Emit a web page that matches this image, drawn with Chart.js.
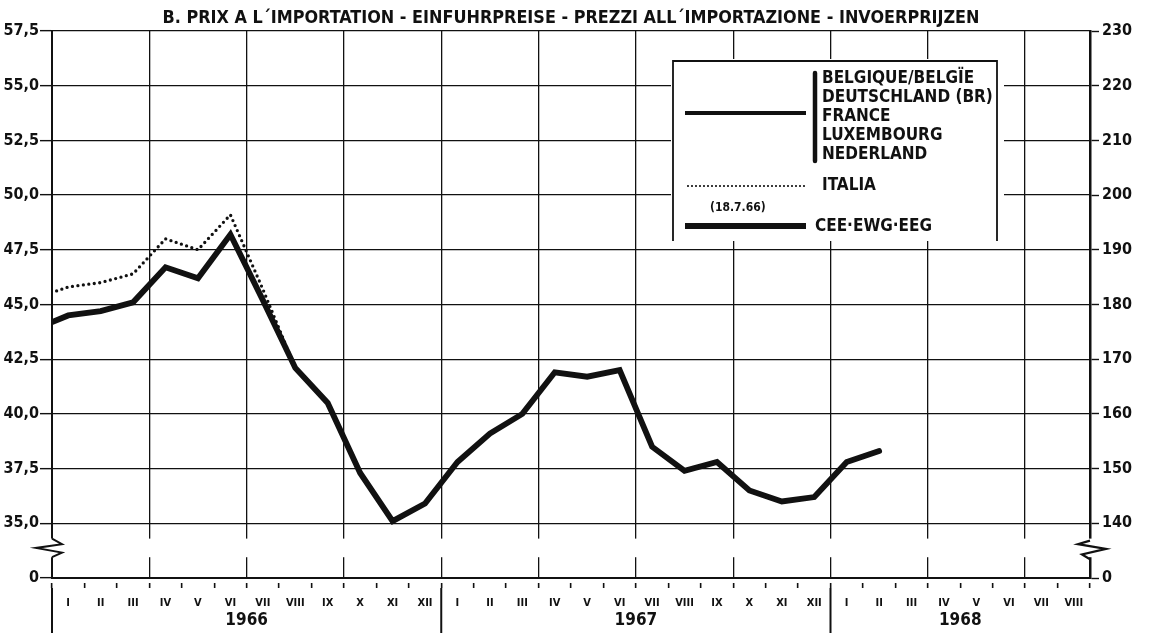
<!DOCTYPE html>
<html lang="fr">
<head>
    <meta charset="UTF-8">
    <title>Prix à l'importation</title>
    <script src="https://cdn.jsdelivr.net/npm/chart.js"></script>
    <style>
        html, body { margin: 0; padding: 0; background: #fff; }
        canvas { display: block; }
    </style>
</head>
<body>
<canvas id="chart" width="1151" height="639"></canvas>
<script>
    // mois de I 1966 a VIII 1968
    const months = ['I', 'II', 'III', 'IV', 'V', 'VI', 'VII', 'VIII', 'IX', 'X', 'XI', 'XII',
                    'I', 'II', 'III', 'IV', 'V', 'VI', 'VII', 'VIII', 'IX', 'X', 'XI', 'XII',
                    'I', 'II', 'III', 'IV', 'V', 'VI', 'VII', 'VIII'];
    const years = ['1966', '1967', '1968'];

    // CEE (et les 5 pays) - valeur de XII 1965, puis I 1966 ...
    const ceePrev = 43.9;
    const ceeValues = [44.5, 44.7, 45.1, 46.7, 46.2, 48.2, 45.2, 42.1, 40.5, 37.3, 35.1, 35.9,
                       37.8, 39.1, 40.0, 41.9, 41.7, 42.0, 38.5, 37.4, 37.8, 36.5, 36.0, 36.2,
                       37.8, 38.3];
    // ITALIA jusqu'au 18.7.66
    const italiaPrev = 45.3;
    const italiaValues = [45.8, 46.0, 46.4, 48.0, 47.5, 49.1, 45.7, 42.1];

    // axes coupes : la premiere graduation vaut 0
    const leftTickValues = [32.5, 35, 37.5, 40, 42.5, 45, 47.5, 50, 52.5, 55, 57.5];
    const leftTickLabels = ['0', '35,0', '37,5', '40,0', '42,5', '45,0', '47,5', '50,0', '52,5', '55,0', '57,5'];
    const rightTickValues = [130, 140, 150, 160, 170, 180, 190, 200, 210, 220, 230];
    const rightTickLabels = ['0', '140', '150', '160', '170', '180', '190', '200', '210', '220', '230'];

    const memberStates = ['BELGIQUE/BELGÏE', 'DEUTSCHLAND (BR)', 'FRANCE', 'LUXEMBOURG', 'NEDERLAND'];
    const titleText = 'B. PRIX A L´IMPORTATION - EINFUHRPREISE - PREZZI ALL´IMPORTAZIONE - INVOERPRIJZEN';

    const ink = '#111';
    const family = '"DejaVu Sans Condensed", "Liberation Sans Narrow", sans-serif';

    function toPoints(prev, values) {
        return [{x: -0.5, y: prev}].concat(values.map((v, i) => ({x: i + 0.5, y: v})));
    }

    // debut et fin de chaque annee sur l'axe des mois
    function yearSpans() {
        const starts = [];
        months.forEach((m, i) => { if (m === 'I') starts.push(i); });
        return starts.map((s, k) => ({start: s, end: k + 1 < starts.length ? starts[k + 1] : months.length}));
    }

    function text(ctx, str, x, y, size, align, width) {
        ctx.save();
        ctx.font = 'bold ' + size + 'px ' + family;
        ctx.fillStyle = ink;
        ctx.textBaseline = 'middle';
        ctx.textAlign = align || 'left';
        const k = width ? width / ctx.measureText(str).width : 1;
        ctx.translate(x, y);
        ctx.scale(k, 1);
        ctx.fillText(str, 0, 0);
        ctx.restore();
    }

    function stroke(ctx, pts, width, dash, cap) {
        ctx.save();
        ctx.strokeStyle = ink;
        ctx.lineWidth = width;
        ctx.setLineDash(dash || []);
        ctx.lineCap = cap || 'butt';
        ctx.beginPath();
        pts.forEach((p, i) => i ? ctx.lineTo(p[0], p[1]) : ctx.moveTo(p[0], p[1]));
        ctx.stroke();
        ctx.restore();
    }

    // coupure des axes entre 0 et 35,0
    const axisBreak = {
        id: 'axisBreak',
        afterDatasetsDraw(chart) {
            const {ctx, chartArea: a, scales: {y}} = chart;
            const top = y.getPixelForValue(34.3);
            const bottom = y.getPixelForValue(33.45);
            const h = bottom - top;
            ctx.save();
            ctx.fillStyle = '#fff';
            ctx.fillRect(a.left - 4, top, a.right - a.left + 8, h);
            ctx.restore();
            stroke(ctx, [[a.left, top], [a.left + 10, top + h * 0.3], [a.left - 16, top + h * 0.5],
                         [a.left + 10, top + h * 0.75], [a.left, bottom]], 2);
            stroke(ctx, [[a.right, top + 2], [a.right - 12, top + h * 0.3], [a.right + 16, top + h * 0.55],
                         [a.right - 8, top + h * 0.85], [a.right, bottom + 2]], 2.2);
        }
    };

    // separateurs des annees sous l'axe
    const yearLines = {
        id: 'yearLines',
        afterDraw(chart) {
            const {ctx, chartArea: a, scales: {x}} = chart;
            yearSpans().forEach(sp => {
                const px = x.getPixelForValue(sp.start);
                stroke(ctx, [[px, a.bottom + 10], [px, a.bottom + 55]], 2);
            });
        }
    };

    const legendBox = {
        id: 'legendBox',
        afterDatasetsDraw(chart) {
            const ctx = chart.ctx;
            ctx.save();
            ctx.fillStyle = '#fff';
            ctx.fillRect(671, 59, 333, 182);
            ctx.restore();
            stroke(ctx, [[673, 241], [673, 61], [997, 61], [997, 241]], 1.8);

            stroke(ctx, [[685, 113], [806, 113]], 4);
            stroke(ctx, [[815, 73], [815, 161]], 4.5, null, 'round');
            memberStates.forEach((s, i) => text(ctx, s, 822, 79 + i * 19, 17));

            stroke(ctx, [[688, 186], [805, 186]], 2.2, [0, 4], 'round');
            text(ctx, 'ITALIA', 822, 186, 17);

            text(ctx, '(18.7.66)', 710, 208, 12);
            stroke(ctx, [[685, 226], [806, 226]], 5.8);
            text(ctx, 'CEE·EWG·EEG', 815, 226.5, 17);
        }
    };

    const chartTitle = {
        id: 'chartTitle',
        afterDraw(chart) {
            const a = chart.chartArea;
            text(chart.ctx, titleText, (a.left + a.right) / 2, 19, 17, 'center', 817);
        }
    };

    const tickFont = size => ({family: family, size: size, weight: 'bold'});

    new Chart(document.getElementById('chart'), {
        type: 'line',
        data: {
            datasets: [{
                label: 'CEE·EWG·EEG',
                data: toPoints(ceePrev, ceeValues),
                borderColor: ink,
                borderWidth: 5.8,
                borderCapStyle: 'round',
                pointRadius: 0,
                tension: 0,
                clip: 0,
                order: 0
            }, {
                label: 'ITALIA',
                data: toPoints(italiaPrev, italiaValues),
                borderColor: ink,
                borderWidth: 3.3,
                borderDash: [0, 5.5],
                borderCapStyle: 'round',
                pointRadius: 0,
                tension: 0,
                clip: 0,
                order: 1
            }]
        },
        options: {
            responsive: false,
            animation: false,
            devicePixelRatio: 1,
            layout: { padding: { top: 31 } },
            plugins: {
                legend: { display: false },
                tooltip: { enabled: false },
                title: { display: false }
            },
            scales: {
                x: {
                    type: 'linear',
                    position: 'bottom',
                    weight: 0,
                    min: 0,
                    max: months.length,
                    afterBuildTicks: s => {
                        s.ticks = months.map((m, i) => ({value: i})).concat([{value: months.length}]);
                    },
                    afterFit: s => { s.height = 30; },
                    grid: {
                        color: c => (c.tick && c.tick.value % 3 === 0) ? ink : 'rgba(0,0,0,0)',
                        lineWidth: 1.3,
                        tickColor: ink,
                        tickLength: 10,
                        tickWidth: 1.6,
                        tickBorderDash: [0, 4, 6, 10]
                    },
                    border: { color: ink, width: 2 },
                    ticks: {
                        autoSkip: false,
                        maxRotation: 0,
                        padding: 9,
                        labelOffset: 16.2,
                        color: ink,
                        font: tickFont(11),
                        callback: v => months[v] || ''
                    }
                },
                years: {
                    type: 'linear',
                    position: 'bottom',
                    weight: 1,
                    min: 0,
                    max: months.length,
                    afterBuildTicks: s => {
                        s.ticks = yearSpans().map(sp => ({value: (sp.start + sp.end) / 2}));
                    },
                    afterFit: s => { s.height = 31; },
                    grid: { display: false, drawTicks: false },
                    border: { display: false },
                    ticks: {
                        autoSkip: false,
                        maxRotation: 0,
                        padding: 2,
                        color: ink,
                        font: tickFont(17),
                        callback: (v, i) => years[i]
                    }
                },
                y: {
                    type: 'linear',
                    position: 'left',
                    min: leftTickValues[0],
                    max: leftTickValues[leftTickValues.length - 1],
                    afterBuildTicks: s => { s.ticks = leftTickValues.map(v => ({value: v})); },
                    afterFit: s => { s.width = 52; },
                    grid: {
                        color: c => (c.tick && c.tick.value >= 35) ? ink : 'rgba(0,0,0,0)',
                        lineWidth: 1.3,
                        tickColor: ink,
                        tickLength: 12,
                        tickWidth: 1.4
                    },
                    border: { color: ink, width: 2 },
                    ticks: {
                        padding: 1,
                        color: ink,
                        font: tickFont(16),
                        callback: (v, i) => leftTickLabels[i]
                    }
                },
                y2: {
                    type: 'linear',
                    position: 'right',
                    min: rightTickValues[0],
                    max: rightTickValues[rightTickValues.length - 1],
                    afterBuildTicks: s => { s.ticks = rightTickValues.map(v => ({value: v})); },
                    afterFit: s => { s.width = 61; },
                    grid: {
                        drawOnChartArea: false,
                        tickColor: ink,
                        tickLength: 9,
                        tickWidth: 1.4
                    },
                    border: { color: ink, width: 2.5 },
                    ticks: {
                        padding: 3,
                        color: ink,
                        font: tickFont(16),
                        callback: (v, i) => rightTickLabels[i]
                    }
                }
            }
        },
        plugins: [axisBreak, legendBox, yearLines, chartTitle]
    });
</script>
</body>
</html>
